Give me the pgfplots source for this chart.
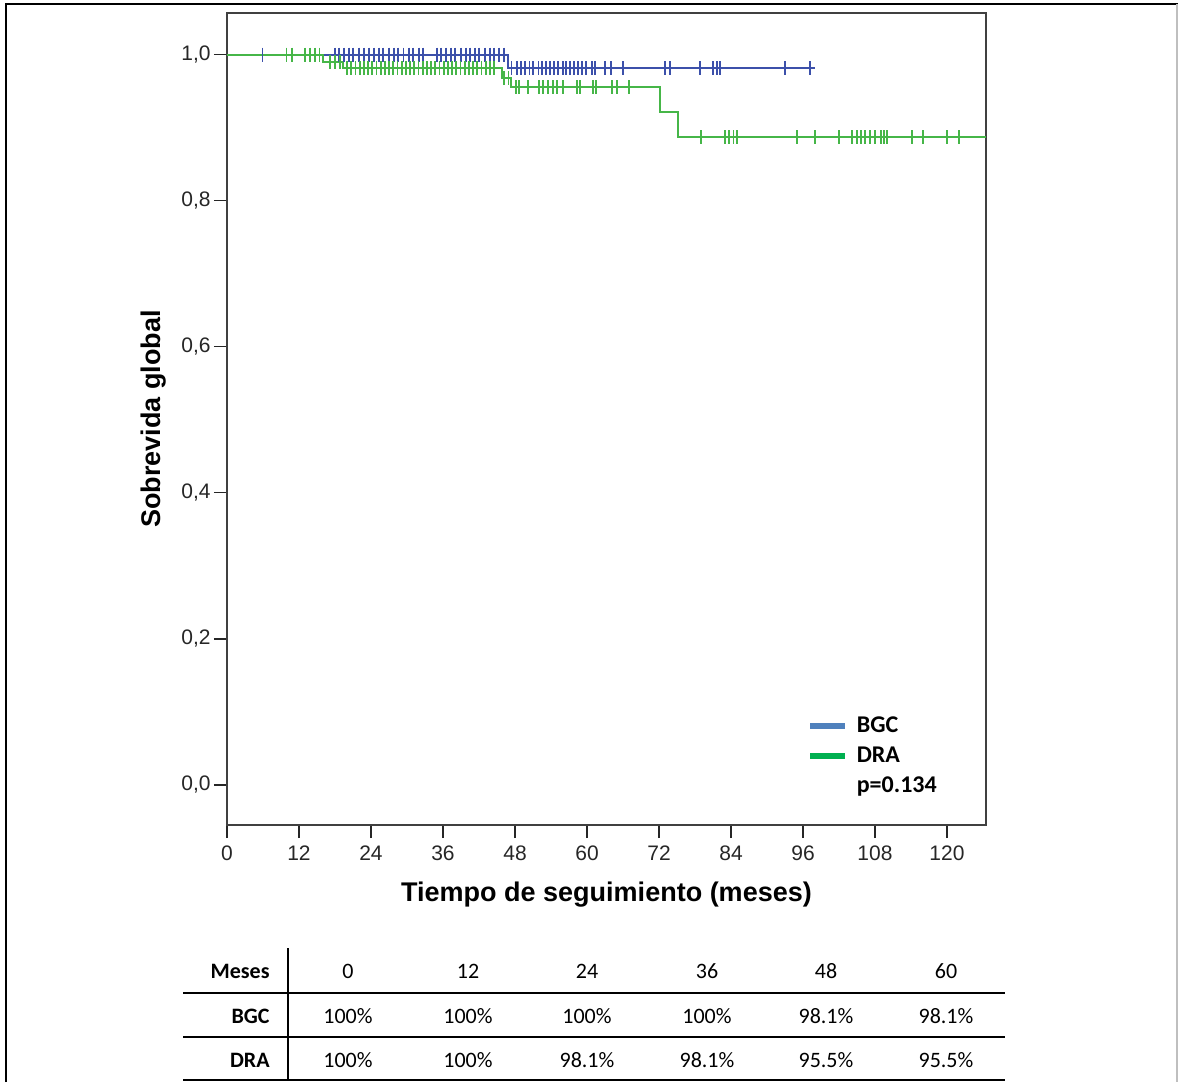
\documentclass[border=0pt]{standalone}
\usepackage{pgfplots}
\pgfplotsset{compat=1.18}
\usepackage{fontspec}
\setmainfont{Liberation Sans}
\newfontfamily\carlito{Carlito}
\definecolor{kmblue}{RGB}{60,80,170}
\definecolor{kmgreen}{RGB}{70,182,72}
\definecolor{legblue}{RGB}{79,129,189}
\definecolor{leggreen}{RGB}{0,176,80}
\begin{document}
\begin{tikzpicture}
\begin{scope}[x=0.5pt,y=-0.5pt]
\useasboundingbox (0,0) rectangle (1178,1082);
% outer frame
\draw[black, line width=1.2pt] (6,1082) -- (6,4) -- (1178,4);
\draw[black!25, line width=0.6pt] (1177,4) -- (1177,1082);
\end{scope}
\begin{axis}[
  at={(113.5pt,-412.5pt)}, anchor=south west,
  scale only axis, width=379.5pt, height=406pt,
  xmin=0, xmax=126.5, ymin=-0.055, ymax=1.057,
  xtick={0,12,...,120},
  ytick={0,0.2,0.4,0.6,0.8,1.0},
  xtick pos=bottom, ytick pos=left,
  tick align=outside, major tick length=6.5pt,
  tick style={black!85, line width=0.7pt},
  axis line style={black!75, line width=0.9pt},
  /pgf/number format/.cd, use comma, fixed, fixed zerofill, precision=1, assume math mode=true,
  /pgfplots/.cd,
  xticklabel={\pgfmathprintnumber[fixed, precision=0, fixed zerofill=false]{\tick}},
  tick label style={font=\fontsize{10.5}{12}\selectfont, text=black!85},
  yticklabel style={inner sep=1.5pt},
  xticklabel style={inner sep=3.5pt},
  xlabel={Tiempo de seguimiento (meses)},
  ylabel={Sobrevida global},
  every axis x label/.style={at={(axis description cs:0.5,-0.0862)}, anchor=center,
    font=\fontsize{13.5}{15}\selectfont\bfseries},
  every axis y label/.style={at={(axis description cs:-0.0962,0.5)}, rotate=90, anchor=center,
    font=\fontsize{13.5}{15}\selectfont\bfseries},
  legend image code/.code={\draw[line width=2.6pt] (0pt,0pt) -- (17.5pt,0pt);},
  legend cell align=left,
  legend style={at={(axis description cs:0.765,0.1367)}, anchor=north west,
    draw=none, fill=none, inner sep=0pt, outer sep=0pt,
    font=\carlito\bfseries\fontsize{12}{12}\selectfont,
    row sep=3pt, column sep=0pt,
    nodes={text height=9pt, text depth=3pt, inner sep=0pt, outer sep=0pt},
    /tikz/every odd column/.append style={column sep=4.5pt}},
]
% survival curves
\addplot[kmblue, line width=1pt, const plot, forget plot] coordinates {
  (0,1) (46.9,0.981) (98,0.981)};
\addplot[kmgreen, line width=1pt, const plot, forget plot] coordinates {
  (0,1) (16,0.9905) (19.4,0.981) (45.8,0.968) (47.4,0.955) (72.2,0.922) (75.2,0.887) (126.5,0.887)};
% censor marks BGC
\addplot[only marks, mark=|, mark size=3.5pt, kmblue, mark options={line width=0.9pt}, forget plot] coordinates {
  (5.9,1) (18,1) (18.7,1) (19.5,1) (20.3,1) (21,1) (22,1) (22.8,1) (23.6,1) (24.5,1) (25.3,1)
  (26,1) (27,1) (27.8,1) (28.5,1) (29.4,1) (30.3,1) (31,1) (32,1) (32.6,1)
  (35,1) (35.7,1) (36.5,1) (37.3,1) (38,1) (39,1) (39.8,1) (40.5,1) (41.3,1) (42,1)
  (43,1) (43.8,1) (44.5,1) (45.3,1) (46.2,1)
  (47.4,0.981) (48.3,0.981) (48.95,0.981) (49.7,0.981) (50.4,0.981) (51.05,0.981) (51.9,0.981)
  (52.45,0.981) (53.2,0.981) (53.8,0.981) (54.5,0.981) (55.2,0.981) (55.95,0.981) (56.5,0.981)
  (57.2,0.981) (57.8,0.981) (58.55,0.981) (59.1,0.981) (59.8,0.981) (60.8,0.981) (61.3,0.981)
  (63,0.981) (63.95,0.981) (66,0.981) (73,0.981) (73.8,0.981) (78.8,0.981) (81.05,0.981)
  (81.7,0.981) (82.2,0.981) (93,0.981) (97.2,0.981)};
% censor marks DRA
\addplot[only marks, mark=|, mark size=3.5pt, kmgreen, mark options={line width=0.9pt}, forget plot] coordinates {
  (9.9,1) (10.8,1) (13,1) (13.8,1) (14.7,1) (15.4,1)
  (17.2,0.9905) (18,0.9905) (18.8,0.9905)
  (20,0.981) (20.7,0.981) (21.4,0.981) (22.1,0.981) (22.8,0.981) (23.5,0.981) (24.2,0.981)
  (24.9,0.981) (25.6,0.981) (26.3,0.981) (27,0.981) (27.7,0.981) (28.4,0.981) (29.1,0.981)
  (29.8,0.981) (30.5,0.981) (31.2,0.981) (31.9,0.981) (32.6,0.981) (33.3,0.981) (34,0.981)
  (34.7,0.981) (35.4,0.981) (36.1,0.981) (36.8,0.981) (37.5,0.981) (38.2,0.981) (38.9,0.981)
  (39.6,0.981) (40.3,0.981) (41,0.981) (41.7,0.981) (42.4,0.981) (43.1,0.981) (43.8,0.981)
  (44.5,0.981)
  (46.2,0.968) (46.9,0.968)
  (48.2,0.955) (48.7,0.955) (50.2,0.955) (52.05,0.955) (52.7,0.955) (53.55,0.955) (54.3,0.955)
  (55.05,0.955) (55.95,0.955) (58.3,0.955) (58.8,0.955) (60.95,0.955) (61.5,0.955) (64.1,0.955)
  (64.95,0.955) (67.05,0.955)
  (79,0.887) (83,0.887) (83.7,0.887) (84.4,0.887) (85.05,0.887) (95.05,0.887) (98,0.887)
  (102.05,0.887) (104.1,0.887) (104.95,0.887) (105.6,0.887) (106.3,0.887) (107.2,0.887)
  (108,0.887) (108.95,0.887) (109.55,0.887) (110.05,0.887) (114.1,0.887) (116.05,0.887)
  (120.05,0.887) (122.05,0.887)};
\addlegendimage{color=legblue}
\addlegendentry{BGC}
\addlegendimage{color=leggreen}
\addlegendentry{DRA}
\addlegendimage{empty legend}
\addlegendentry{p=0.134}
\end{axis}
\begin{scope}[x=0.5pt,y=-0.5pt]
% table
\draw[black, line width=1pt] (288,948) -- (288,1080);
\draw[black, line width=1pt] (183,993) -- (1005,993);
\draw[black, line width=1pt] (183,1037) -- (1005,1037);
\draw[black, line width=1pt] (183,1080) -- (1005,1080);
\begin{scope}[every node/.style={font=\carlito\fontsize{11}{13}\selectfont, inner sep=0pt}]
\node[anchor=east, font=\carlito\bfseries\fontsize{11}{13}\selectfont] at (270,971) {Meses};
\node[anchor=east, font=\carlito\bfseries\fontsize{11}{13}\selectfont] at (270,1016) {BGC};
\node[anchor=east, font=\carlito\bfseries\fontsize{11}{13}\selectfont] at (270,1060) {DRA};
\node at (348,971) {0};
\node at (468,971) {12};
\node at (587,971) {24};
\node at (707,971) {36};
\node at (826,971) {48};
\node at (946,971) {60};
\node at (348,1016) {100\%};
\node at (468,1016) {100\%};
\node at (587,1016) {100\%};
\node at (707,1016) {100\%};
\node at (826,1016) {98.1\%};
\node at (946,1016) {98.1\%};
\node at (348,1060) {100\%};
\node at (468,1060) {100\%};
\node at (587,1060) {98.1\%};
\node at (707,1060) {98.1\%};
\node at (826,1060) {95.5\%};
\node at (946,1060) {95.5\%};
\end{scope}
\end{scope}
\end{tikzpicture}
\end{document}
